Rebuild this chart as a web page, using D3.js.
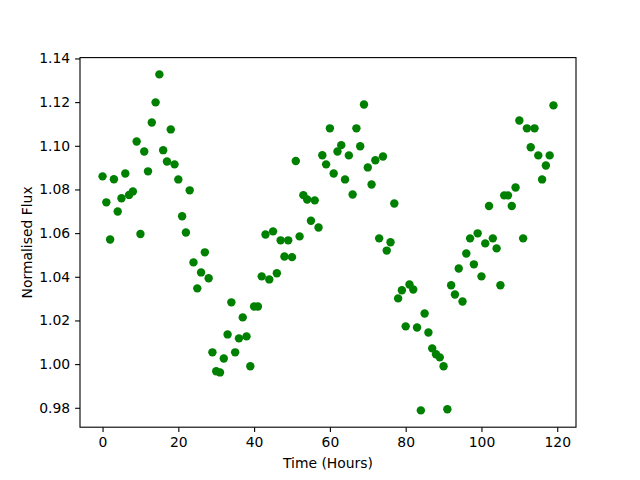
<!DOCTYPE html>
<html>
<head>
<meta charset="utf-8">
<script src="https://cdn.jsdelivr.net/npm/d3@7"></script>
<style>
  body { margin: 0; background: #fff; }
  svg text { font-family: "DejaVu Sans", sans-serif; fill: #000; }
</style>
</head>
<body>
<div id="chart"></div>
<script>
// hours 0..119, one reading per hour
const hours = d3.range(0, 120);

const flux = [
  1.0860, 1.0741, 1.0571, 1.0847, 1.0699, 1.0760, 1.0873, 1.0775, 1.0791, 1.1020,
  1.0596, 1.0974, 1.0883, 1.1107, 1.1199, 1.1327, 1.0980, 1.0928, 1.1075, 1.0915,
  1.0846, 1.0677, 1.0603, 1.0796, 1.0466, 1.0347, 1.0420, 1.0512, 1.0393, 1.0054,
  0.9967, 0.9962, 1.0026, 1.0136, 1.0283, 1.0054, 1.0118, 1.0214, 1.0127, 0.9990,
  1.0264, 1.0264, 1.0402, 1.0594, 1.0388, 1.0608, 1.0416, 1.0567, 1.0493, 1.0567,
  1.0490, 1.0930, 1.0585, 1.0774, 1.0754, 1.0657, 1.0750, 1.0626, 1.0957, 1.0915,
  1.1080, 1.0873, 1.0974, 1.1003, 1.0846, 1.0956, 1.0777, 1.1080, 1.0998, 1.1189,
  1.0901, 1.0823, 1.0934, 1.0576, 1.0951, 1.0520, 1.0558, 1.0736, 1.0301, 1.0338,
  1.0173, 1.0365, 1.0342, 1.0168, 0.9788, 1.0232, 1.0145, 1.0072, 1.0045, 1.0031,
  0.9990, 0.9793, 1.0361, 1.0319, 1.0438, 1.0287, 1.0507, 1.0576, 1.0457, 1.0599,
  1.0402, 1.0553, 1.0724, 1.0576, 1.0530, 1.0361, 1.0773, 1.0773, 1.0724, 1.0809,
  1.1116, 1.0576, 1.1080, 1.0993, 1.1080, 1.0956, 1.0846, 1.0910, 1.0956, 1.1185
];

const xTicks = [0, 20, 40, 60, 80, 100, 120];
const yTicks = [0.98, 1.00, 1.02, 1.04, 1.06, 1.08, 1.10, 1.12, 1.14];

const WIDTH = 640, HEIGHT = 480;
const margin = { left: 80, right: 64, top: 57.6, bottom: 52.8 };
const plotW = WIDTH - margin.left - margin.right;
const plotH = HEIGHT - margin.top - margin.bottom;

// matplotlib-like 5% padding
const pad = (ext) => { const d = (ext[1] - ext[0]) * 0.05; return [ext[0] - d, ext[1] + d]; };

const x = d3.scaleLinear().domain(pad(d3.extent(hours))).range([0, plotW]);
const y = d3.scaleLinear().domain(pad(d3.extent(flux))).range([plotH, 0]);

const svg = d3.select("#chart").append("svg")
  .attr("width", WIDTH)
  .attr("height", HEIGHT);

const g = svg.append("g").attr("transform", `translate(${margin.left},${margin.top})`);

const points = hours.map((h, i) => ({ h, v: flux[i] }));

g.append("g")
  .selectAll("circle")
  .data(points)
  .join("circle")
  .attr("cx", d => x(d.h))
  .attr("cy", d => y(d.v))
  .attr("r", 4.2)
  .attr("fill", "#008000");

const xAxis = g.append("g")
  .attr("transform", `translate(0,${plotH})`)
  .call(d3.axisBottom(x).tickValues(xTicks).tickSize(4.9).tickPadding(4.9).tickFormat(d3.format("d")));

const yAxis = g.append("g")
  .call(d3.axisLeft(y).tickValues(yTicks).tickSize(4.9).tickPadding(4.9).tickFormat(d3.format(".2f")));

[xAxis, yAxis].forEach(a => {
  a.select(".domain").remove();
  a.selectAll(".tick line").attr("stroke", "#000").attr("stroke-width", 1.1);
  a.selectAll(".tick text").style("font-family", "DejaVu Sans").style("font-size", "13.9px").attr("fill", "#000");
});

// frame
g.append("rect")
  .attr("width", plotW)
  .attr("height", plotH)
  .attr("fill", "none")
  .attr("stroke", "#000")
  .attr("stroke-width", 1.1);

svg.append("text")
  .attr("x", margin.left + plotW / 2)
  .attr("y", 468)
  .attr("text-anchor", "middle")
  .style("font-size", "13.9px")
  .text("Time (Hours)");

svg.append("text")
  .attr("transform", `translate(32,${margin.top + plotH / 2}) rotate(-90)`)
  .attr("text-anchor", "middle")
  .style("font-size", "13.9px")
  .text("Normalised Flux");
</script>
</body>
</html>
